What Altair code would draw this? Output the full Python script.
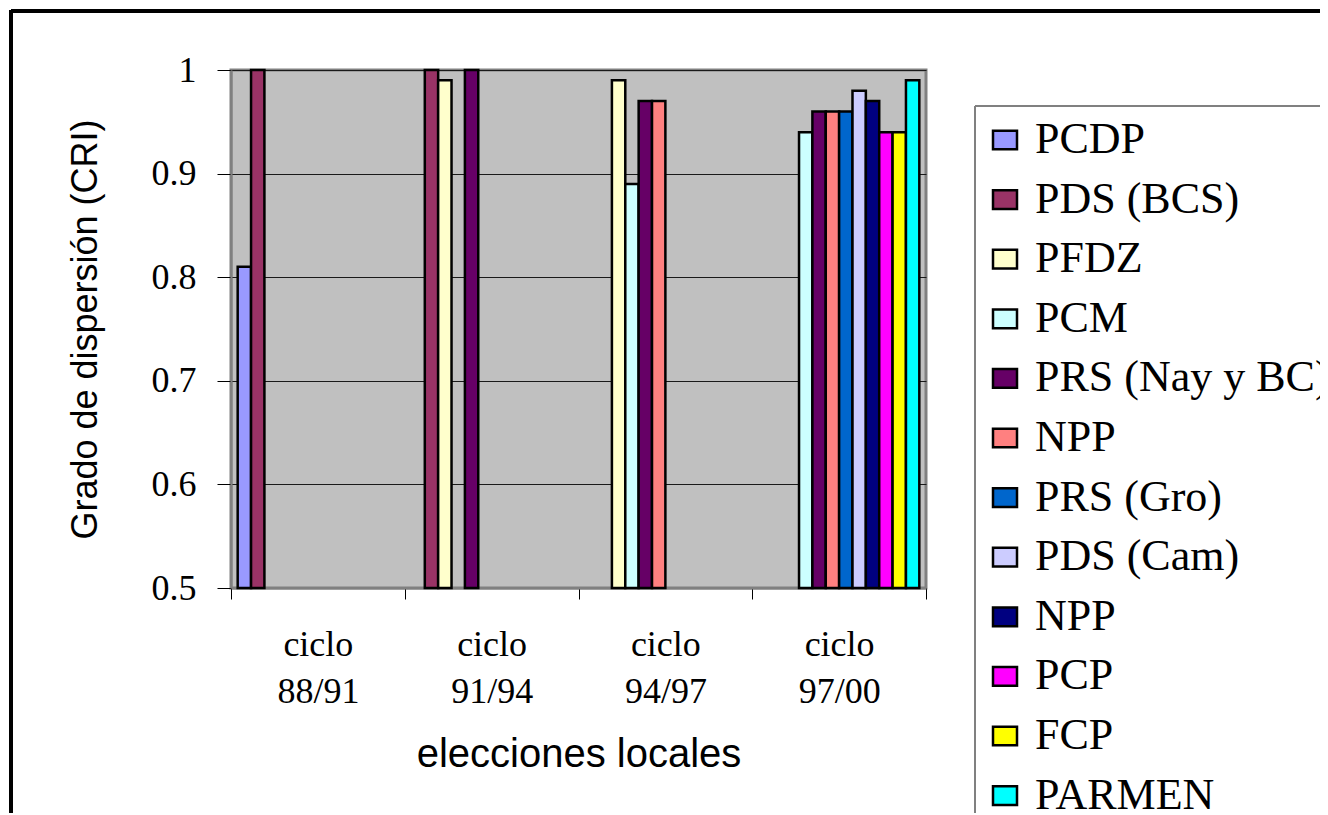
import altair as alt
import pandas as pd

# ---- data ----
categories = ["ciclo 88/91", "ciclo 91/94", "ciclo 94/97", "ciclo 97/00"]
series = ["PCDP", "PDS (BCS)", "PFDZ", "PCM", "PRS (Nay y BC)", "NPP",
          "PRS (Gro)", "PDS (Cam)", "NPP ", "PCP", "FCP", "PARMEN"]
colors = ["#9999FF", "#993366", "#FFFFCC", "#CCFFFF", "#660066", "#FF8080",
          "#0066CC", "#CCCCFF", "#000080", "#FF00FF", "#FFFF00", "#00FFFF"]

# values per series, one per category (None = no bar)
PCDP = [0.81, None, None, None]
PDS_BCS = [1.00, 1.00, None, None]
PFDZ = [None, 0.99, 0.99, None]
PCM = [None, None, 0.89, 0.94]
PRS_NAY = [None, 1.00, 0.97, 0.96]
NPP_1 = [None, None, 0.97, 0.96]
PRS_GRO = [None, None, None, 0.96]
PDS_CAM = [None, None, None, 0.98]
NPP_2 = [None, None, None, 0.97]
PCP = [None, None, None, 0.94]
FCP = [None, None, None, 0.94]
PARMEN = [None, None, None, 0.99]

values = [PCDP, PDS_BCS, PFDZ, PCM, PRS_NAY, NPP_1, PRS_GRO, PDS_CAM,
          NPP_2, PCP, FCP, PARMEN]

y_min, y_max = 0.5, 1.0

rows = []
for s, vals in zip(series, values):
    for c, v in zip(categories, vals):
        if v is not None:
            rows.append({"ciclo": c, "partido": s, "valor": v})
df = pd.DataFrame(rows)

W, H = 695, 518

bars = alt.Chart(df).mark_bar(stroke="black", strokeWidth=2.5).encode(
    x=alt.X("ciclo:N", sort=categories,
            scale=alt.Scale(domain=categories, paddingInner=0, paddingOuter=0),
            axis=alt.Axis(
                title="elecciones locales", labelAngle=0, tickBand="extent",
                labelExpr="split(datum.label, ' ')",
                labelFont="Liberation Serif", labelFontSize=36, labelColor="black",
                labelLineHeight=47, labelPadding=28, labelBaseline="top",
                tickColor="black", tickSize=11, tickWidth=1,
                domainColor="#808080", domainWidth=2,
                titleFont="Liberation Sans", titleFontSize=40,
                titleFontWeight="normal", titleColor="black",
                titleY=178, titleBaseline="alphabetic")),
    xOffset=alt.XOffset("partido:N", sort=series,
                        scale=alt.Scale(domain=series, paddingInner=0, paddingOuter=0.5)),
    y=alt.Y("valor:Q",
            scale=alt.Scale(domain=[y_min, y_max], zero=False, nice=False),
            axis=alt.Axis(
                title="Grado de dispersión (CRI)",
                values=[0.5, 0.6, 0.7, 0.8, 0.9, 1.0], format=".1~f",
                labelFont="Liberation Serif", labelFontSize=36, labelColor="black",
                labelPadding=21, tickColor="black", tickSize=14, tickWidth=1,
                domainColor="#808080", domainWidth=2,
                grid=True, gridColor="#1a1a1a", gridWidth=1,
                titleFont="Liberation Sans", titleFontSize=36,
                titleFontWeight="normal", titleColor="black",
                titleX=-146, titleY=H / 2, titleAngle=-90,
                titleAlign="center", titleBaseline="middle")),
    y2=alt.Y2(datum=y_min),
    color=alt.Color("partido:N", sort=series,
                    scale=alt.Scale(domain=series, range=colors),
                    legend=alt.Legend(
                        title=None, orient="none", legendX=737, legendY=33,
                        padding=15,
                        labelFont="Liberation Serif", labelFontSize=44,
                        labelColor="black", labelOffset=8, rowPadding=15.6,
                        labelLimit=600,
                        symbolType="M-1,-0.78L1,-0.78L1,0.78L-1,0.78Z",
                        symbolSize=576, symbolStrokeColor="black",
                        symbolStrokeWidth=2.5, symbolOpacity=1)),
)

# outer chart frame and legend box edges (decoration)
frame_top = alt.Chart(df).mark_rule(color="black", strokeWidth=3).encode(
    x=alt.value(-220), x2=alt.value(1200), y=alt.value(-59))
frame_left = alt.Chart(df).mark_rule(color="black", strokeWidth=3).encode(
    x=alt.value(-220), y=alt.value(-60), y2=alt.value(900))
legend_top = alt.Chart(df).mark_rule(color="#808080", strokeWidth=1.5).encode(
    x=alt.value(744), x2=alt.value(1200), y=alt.value(36))
legend_left = alt.Chart(df).mark_rule(color="#808080", strokeWidth=1.5).encode(
    x=alt.value(744), y=alt.value(36), y2=alt.value(900))

chart = alt.layer(frame_top, frame_left, legend_top, legend_left, bars).properties(
    width=W, height=H,
    autosize=alt.AutoSizeParams(type="none"),
    padding={"left": 223, "top": 62, "right": 394, "bottom": 225},
    background="white",
).configure_view(
    fill="#C0C0C0", stroke="#808080", strokeWidth=3
)

chart.save("out.html", embed_options={"renderer": "svg", "actions": False})
